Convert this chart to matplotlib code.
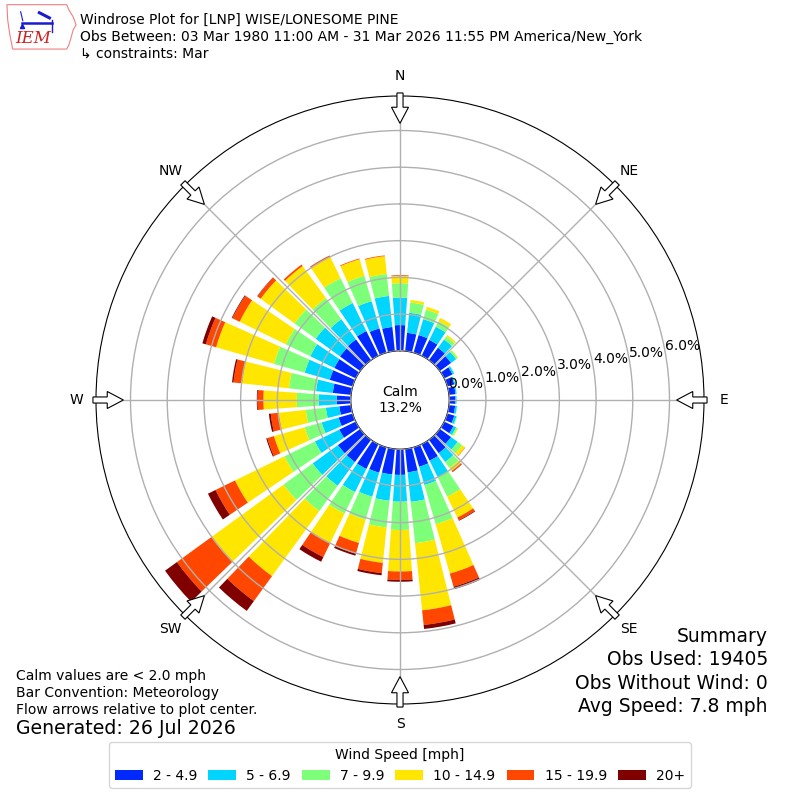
import numpy as np
import matplotlib
matplotlib.use("Agg")
import matplotlib.pyplot as plt
from matplotlib.patches import FancyArrow, Polygon

# ---------- Data ----------
DIRECTIONS = np.arange(10, 361, 10)  # degrees, meteorological
SPEED_LABELS = ["2 - 4.9", "5 - 6.9", "7 - 9.9", "10 - 14.9", "15 - 19.9", "20+"]

# percent of observations per direction for each speed bin
SPD_2_5 = [0.50, 0.50, 0.48, 0.42, 0.38, 0.25, 0.20, 0.18, 0.17, 0.17, 0.20, 0.28,
           0.38, 0.45, 0.50, 0.55, 0.64, 0.70, 0.70, 0.72, 0.75, 0.75, 0.75, 0.50,
           0.40, 0.32, 0.38, 0.50, 0.65, 0.65, 0.68, 0.70, 0.75, 0.69, 0.66, 0.70]
SPD_5_7 = [0.55, 0.45, 0.40, 0.28, 0.17, 0.05, 0.03, 0.03, 0.03, 0.05, 0.06, 0.08,
           0.22, 0.30, 0.50, 0.52, 0.81, 0.73, 0.72, 0.68, 0.70, 0.80, 0.85, 0.74,
           0.48, 0.37, 0.50, 0.46, 0.71, 0.73, 0.82, 0.68, 0.85, 0.77, 0.85, 0.75]
SPD_7_10 = [0.28, 0.27, 0.17, 0.10, 0.05, 0.01, 0.01, 0.01, 0.01, 0.01, 0.02, 0.04,
            0.15, 0.20, 0.59, 1.11, 1.13, 0.77, 0.73, 0.65, 0.65, 0.85, 0.98, 0.92,
            0.48, 0.55, 0.59, 0.74, 0.87, 0.74, 0.71, 0.71, 0.75, 0.72, 0.60, 0.39]
SPD_10_15 = [0.07, 0.08, 0.10, 0.05, 0.02, 0.00, 0.00, 0.00, 0.00, 0.00, 0.00, 0.02,
             0.10, 0.10, 0.63, 1.40, 1.84, 1.13, 0.97, 0.66, 0.91, 2.19, 2.43, 1.50,
             0.87, 0.74, 0.91, 1.29, 1.64, 1.40, 1.14, 1.08, 0.65, 0.47, 0.49, 0.20]
SPD_15_20 = [0.00, 0.00, 0.00, 0.00, 0.00, 0.00, 0.00, 0.00, 0.00, 0.00, 0.00, 0.00,
             0.01, 0.03, 0.08, 0.37, 0.40, 0.23, 0.28, 0.30, 0.41, 0.84, 1.16, 0.59,
             0.19, 0.22, 0.16, 0.23, 0.29, 0.22, 0.11, 0.05, 0.04, 0.02, 0.02, 0.02]
SPD_20_UP = [0.00, 0.00, 0.00, 0.00, 0.00, 0.00, 0.00, 0.00, 0.00, 0.00, 0.00, 0.00,
             0.00, 0.01, 0.02, 0.07, 0.11, 0.05, 0.06, 0.06, 0.14, 0.33, 0.40, 0.23,
             0.03, 0.05, 0.02, 0.04, 0.10, 0.02, 0.01, 0.00, 0.00, 0.00, 0.00, 0.00]

CALM_PCT = 13.2
RTICKS = [0, 1, 2, 3, 4, 5, 6]
COMPASS = ["N", "NE", "E", "SE", "S", "SW", "W", "NW"]

TITLE_LINES = [
    "Windrose Plot for [LNP] WISE/LONESOME PINE",
    "Obs Between: 03 Mar 1980 11:00 AM - 31 Mar 2026 11:55 PM America/New_York",
    "\u21b3 constraints: Mar",
]
NOTE_LINES = [
    "Calm values are < 2.0 mph",
    "Bar Convention: Meteorology",
    "Flow arrows relative to plot center.",
]
SUMMARY_LINES = ["Summary", "Obs Used: 19405", "Obs Without Wind: 0", "Avg Speed: 7.8 mph"]

# ---------- Style ----------
COLORS = plt.get_cmap("jet")(np.arange(1, 7) / 6.0)
AX_RECT = [0.12, 0.12, 0.76, 0.76]


def draw_rose(fig):
    ax = fig.add_axes(AX_RECT, projection="polar")
    ax.set_theta_zero_location("N")
    ax.set_theta_direction(-1)

    theta = np.deg2rad(DIRECTIONS)
    width = np.deg2rad(8)
    bottom = np.zeros(len(DIRECTIONS))
    handles = []
    for vals, color, label in zip(
        [SPD_2_5, SPD_5_7, SPD_7_10, SPD_10_15, SPD_15_20, SPD_20_UP], COLORS, SPEED_LABELS
    ):
        vals = np.array(vals)
        bars = ax.bar(theta, vals, width=width, bottom=bottom, color=color,
                      label=label, linewidth=0, zorder=1)
        handles.append(bars)
        bottom = bottom + vals

    ax.set_rorigin(-1.34)
    ax.set_ylim(0, 6.94)
    ax.set_yticks(RTICKS)
    ax.set_yticklabels([f"{t:.1f}%" for t in RTICKS], fontsize=10)
    ax.set_rlabel_position(80)
    ax.set_xticks(np.deg2rad(np.arange(0, 360, 45)))
    ax.set_xticklabels([])
    ax.set_axisbelow(False)
    ax.grid(True, color="#b0b0b0", linewidth=1)
    ax.text(0.5, 0.5, f"Calm\n{CALM_PCT:.1f}%", transform=ax.transAxes,
            ha="center", va="center", fontsize=10)
    return ax, handles


def draw_arrows(fig):
    ov = fig.add_axes(AX_RECT)
    ov.set_xlim(-1, 1)
    ov.set_ylim(-1, 1)
    ov.axis("off")
    for i, name in enumerate(COMPASS):
        d = np.deg2rad(i * 45)
        sx, sy = np.sin(d), np.cos(d)
        ov.add_patch(FancyArrow(1.01 * sx, 1.01 * sy, -0.10 * sx, -0.10 * sy,
                                width=0.02, head_width=0.056, head_length=0.053,
                                length_includes_head=True, fc="white", ec="black",
                                lw=0.8, clip_on=False))
        ov.text(1.066 * sx, 1.066 * sy, name, ha="center", va="center", fontsize=10)


def draw_logo(fig):
    lax = fig.add_axes([0.006, 0.9375, 0.09, 0.059])
    lax.set_xlim(0, 1)
    lax.set_ylim(0, 1)
    lax.axis("off")
    outline = [(0.03, 0.96), (0.86, 0.96), (0.89, 0.85), (0.95, 0.70), (0.99, 0.53),
               (0.95, 0.43), (0.92, 0.26), (0.89, 0.11), (0.86, 0.02), (0.11, 0.02),
               (0.07, 0.32), (0.04, 0.64)]
    lax.add_patch(Polygon(outline, closed=True, fc="white", ec="#f08080", lw=0.8))
    blue = "#1a1ad0"
    lax.plot([0.24, 0.66], [0.57, 0.57], color=blue, lw=1.8)
    lax.plot([0.66, 0.66], [0.64, 0.38], color=blue, lw=1)
    lax.plot([0.48, 0.62], [0.79, 0.68], color=blue, lw=2.2)
    lax.plot([0.22, 0.25], [0.81, 0.62], color=blue, lw=0.8)
    lax.plot([0.24], [0.50], marker="^", color=blue, ms=3)
    lax.text(0.40, 0.24, "IEM", color="#d02020", fontsize=12, style="italic",
             family="DejaVu Serif", ha="center", va="center")


def main():
    fig = plt.figure(figsize=(8, 8), dpi=100)
    ax, handles = draw_rose(fig)
    draw_arrows(fig)
    draw_logo(fig)

    for i, line in enumerate(TITLE_LINES):
        fig.text(0.1, 0.975 - i * 0.0212, line, fontsize=10, ha="left", va="center")
    for i, line in enumerate(NOTE_LINES):
        fig.text(0.02, 0.155 - i * 0.0212, line, fontsize=10, ha="left", va="center")
    fig.text(0.02, 0.089, "Generated: 26 Jul 2026", fontsize=13.6, ha="left", va="center")
    for i, line in enumerate(SUMMARY_LINES):
        fig.text(0.96, 0.205 - i * 0.0295, line, fontsize=13.5, ha="right", va="center")

    fig.legend(handles, SPEED_LABELS, loc="lower center", bbox_to_anchor=(0.5, 0.006),
               ncol=6, title="Wind Speed [mph]", fontsize=10, title_fontsize=10,
               columnspacing=0.8, handletextpad=0.73)

    fig.savefig("out.png", dpi=100)


if __name__ == "__main__":
    main()
